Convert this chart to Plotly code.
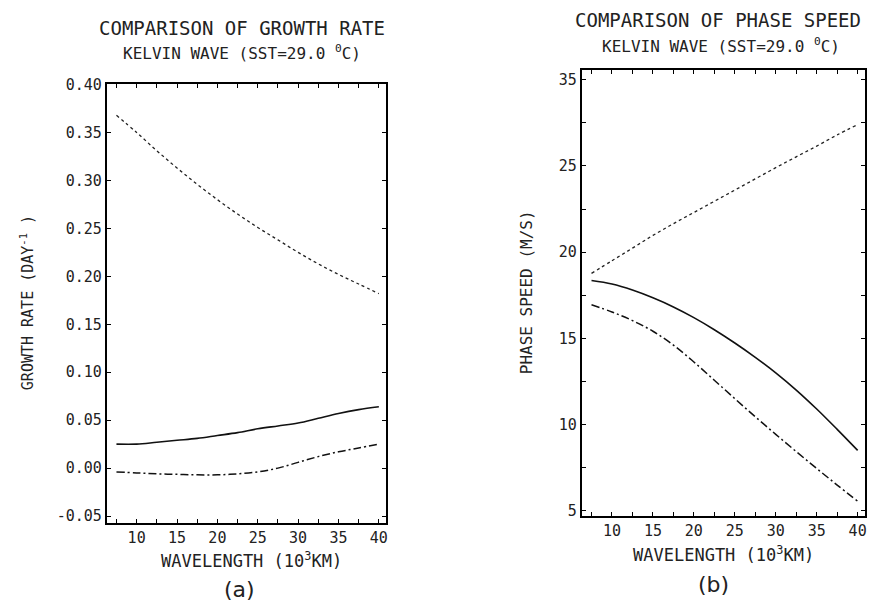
import plotly.graph_objects as go

# ---------------- data ----------------
wavelength = [7.5, 10, 12.5, 15, 17.5, 20, 22.5, 25, 27.5, 30, 32.5, 35, 37.5, 40]

growth_dotted = [0.368, 0.350, 0.331, 0.313, 0.296, 0.280, 0.265, 0.251, 0.238, 0.225, 0.213, 0.202, 0.192, 0.182]
growth_solid = [0.025, 0.025, 0.027, 0.029, 0.031, 0.034, 0.037, 0.041, 0.044, 0.047, 0.052, 0.057, 0.061, 0.064]
growth_dashdot = [-0.004, -0.005, -0.006, -0.0065, -0.007, -0.007, -0.006, -0.004, 0.000, 0.006, 0.012, 0.017, 0.021, 0.025]

speed_dotted = [18.77, 19.5, 20.23, 20.97, 21.65, 22.3, 22.95, 23.6, 24.25, 24.9, 25.53, 26.15, 26.8, 27.4]
speed_solid = [18.35, 18.15, 17.80, 17.35, 16.82, 16.20, 15.50, 14.73, 13.90, 13.00, 12.00, 10.90, 9.72, 8.50]
speed_dashdot = [16.95, 16.53, 16.03, 15.41, 14.61, 13.63, 12.57, 11.50, 10.45, 9.43, 8.43, 7.45, 6.49, 5.55]

x_tickvals = [7.5, 10, 12.5, 15, 17.5, 20, 22.5, 25, 27.5, 30, 32.5, 35, 37.5, 40]
x_ticktext = ["", "10", "", "15", "", "20", "", "25", "", "30", "", "35", "", "40"]

growth_tickvals = [-0.05, 0.0, 0.05, 0.10, 0.15, 0.20, 0.25, 0.30, 0.35, 0.40]
growth_ticktext = ["-0.05", "0.00", "0.05", "0.10", "0.15", "0.20", "0.25", "0.30", "0.35", "0.40"]

speed_tickvals = [5, 7.5, 10, 12.5, 15, 17.5, 20, 22.5, 25, 27.5, 30]
speed_ticktext = ["5", "", "10", "", "15", "", "20", "", "25", "", "35"]

title_a = ["COMPARISON OF GROWTH RATE", "KELVIN WAVE (SST=29.0 <sup>0</sup>C)"]
title_b = ["COMPARISON OF PHASE SPEED", "KELVIN WAVE (SST=29.0 <sup>0</sup>C)"]
ylabel_a = "GROWTH RATE (DAY<sup>-1</sup> )"
ylabel_b = "PHASE SPEED (M/S)"
xlabel = "WAVELENGTH (10<sup>3</sup>KM)"
panel_labels = ["(a)", "(b)"]

# ---------------- figure ----------------
OFF = 8              # page body margin offset
W, H = 876 - OFF, 614 - OFF
MONO = "DejaVu Sans Mono"
fig = go.Figure()

dot_style = dict(color="#222", width=1.3, dash="3px,3px")
solid_style = dict(color="#111", width=1.6)
dashdot_style = dict(color="#111", width=1.5, dash="8px,3px,2px,3px")

for ys, st in [(growth_dotted, dot_style), (growth_solid, solid_style), (growth_dashdot, dashdot_style)]:
    fig.add_trace(go.Scatter(x=wavelength, y=ys, mode="lines", line=st, line_shape="spline",
                             xaxis="x", yaxis="y", showlegend=False))
for ys, st in [(speed_dotted, dot_style), (speed_solid, solid_style), (speed_dashdot, dashdot_style)]:
    fig.add_trace(go.Scatter(x=wavelength, y=ys, mode="lines", line=st, line_shape="spline",
                             xaxis="x2", yaxis="y2", showlegend=False))

def px_x(p):
    return (p - OFF) / W

def px_y(p):
    return 1 - (p - OFF) / H

axis_common = dict(showline=True, linecolor="black", linewidth=1.8, mirror="ticks",
                   ticks="inside", ticklen=4, tickwidth=1.2, tickcolor="black",
                   showgrid=False, zeroline=False,
                   tickfont=dict(family=MONO, size=15, color="#222"))

fig.update_layout(
    width=W, height=H,
    margin=dict(l=0, r=0, t=0, b=0),
    paper_bgcolor="white", plot_bgcolor="white",
    xaxis=dict(domain=[px_x(107), px_x(387)], range=[6.3, 40.9], anchor="y",
               tickmode="array", tickvals=x_tickvals, ticktext=x_ticktext, **axis_common),
    yaxis=dict(domain=[px_y(525), px_y(77)], range=[-0.057, 0.401], anchor="x",
               tickmode="array", tickvals=growth_tickvals, ticktext=growth_ticktext, **axis_common),
    xaxis2=dict(domain=[px_x(583), px_x(867)], range=[6.3, 40.9], anchor="y2",
                tickmode="array", tickvals=x_tickvals, ticktext=x_ticktext, **axis_common),
    yaxis2=dict(domain=[px_y(518), px_y(63)], range=[4.7, 30.57], anchor="x2",
                tickmode="array", tickvals=speed_tickvals, ticktext=speed_ticktext, **axis_common),
)

def ann(text, x, y, size, family=MONO, angle=0):
    fig.add_annotation(text=text, x=px_x(x), y=px_y(y), xref="paper", yref="paper",
                       showarrow=False, xanchor="center", yanchor="middle", textangle=angle,
                       font=dict(family=family, size=size, color="#222"))

ann(title_a[0], 243, 20, 19)
ann(title_a[1], 243, 45, 16)
ann(title_b[0], 720, 12, 19)
ann(title_b[1], 723, 38, 16)
ann(ylabel_a, 27, 300, 15, angle=-90)
ann(ylabel_b, 528, 290, 16, angle=-90)
ann(xlabel, 252, 563, 17)
ann(xlabel, 725, 557, 17)
ann(panel_labels[0], 240, 593, 22, family="DejaVu Sans")
ann(panel_labels[1], 715, 588, 22, family="DejaVu Sans")

fig.write_html("out.html")
